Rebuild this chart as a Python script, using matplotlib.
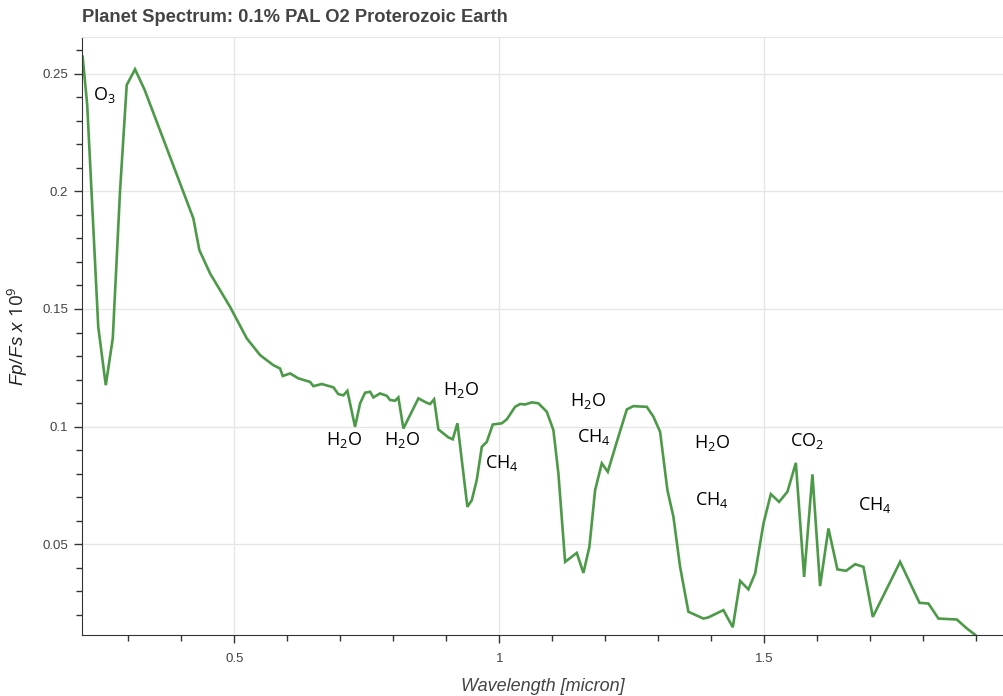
import matplotlib
matplotlib.use("Agg")
from matplotlib import pyplot as plt
from matplotlib.ticker import MultipleLocator, FuncFormatter

# Spectrum vertices
wavelength = [0.2138, 0.2224, 0.2432, 0.2574, 0.2706, 0.2844, 0.2969, 0.3126, 0.3308,
              0.3976, 0.4226, 0.434, 0.4542, 0.4919, 0.5234, 0.5485, 0.5736, 0.5862,
              0.5913, 0.6051, 0.6208, 0.6428, 0.6491, 0.6649, 0.6868, 0.6962, 0.7057,
              0.7132, 0.7277, 0.7372, 0.7466, 0.756, 0.7623, 0.7749, 0.7875, 0.7938,
              0.8032, 0.8094, 0.8189, 0.8315, 0.8472, 0.863, 0.8693, 0.8768, 0.8849,
              0.9038, 0.912, 0.9208, 0.9396, 0.9479, 0.9573, 0.9668, 0.9762, 0.9875,
              1.0045, 1.014, 1.0296, 1.0391, 1.0485, 1.0611, 1.0736, 1.0894, 1.1019,
              1.1113, 1.124, 1.146, 1.1585, 1.1698, 1.1806, 1.1932, 1.2045, 1.2215,
              1.2404, 1.2528, 1.2781, 1.2906, 1.3032, 1.317, 1.3283, 1.3409, 1.3566,
              1.3849, 1.3943, 1.4226, 1.4403, 1.4542, 1.4698, 1.4825, 1.4982, 1.5121,
              1.5277, 1.5434, 1.5593, 1.5749, 1.5906, 1.605, 1.6208, 1.6377, 1.6541,
              1.6711, 1.6868, 1.7045, 1.756, 1.7925, 1.8094, 1.8283, 1.863, 1.8819,
              1.8975]
flux = [0.2572, 0.2367, 0.1424, 0.1176, 0.1375, 0.2005, 0.2452, 0.2519, 0.2431,
        0.2034, 0.1885, 0.175, 0.1651, 0.1509, 0.1375, 0.1304, 0.1261, 0.1247,
        0.1215, 0.1226, 0.1205, 0.119, 0.1172, 0.1181, 0.1167, 0.1138, 0.1133,
        0.1152, 0.0999, 0.1099, 0.1144, 0.1148, 0.1124, 0.1141, 0.1131, 0.1113,
        0.111, 0.1124, 0.0992, 0.1049, 0.112, 0.1101, 0.1096, 0.1116, 0.0988,
        0.0954, 0.0946, 0.1014, 0.0659, 0.0687, 0.0773, 0.0914, 0.0935, 0.1009,
        0.1014, 0.1031, 0.1084, 0.1096, 0.1094, 0.1103, 0.1099, 0.1063, 0.0985,
        0.0801, 0.0425, 0.0463, 0.0378, 0.0489, 0.073, 0.0844, 0.0808, 0.0935,
        0.1073, 0.1087, 0.1084, 0.1042, 0.0978, 0.073, 0.0617, 0.0404, 0.0213,
        0.0184, 0.0189, 0.022, 0.0147, 0.0344, 0.0308, 0.0376, 0.0588, 0.0713,
        0.068, 0.0723, 0.0846, 0.0361, 0.0797, 0.0322, 0.0567, 0.0393, 0.0387,
        0.0415, 0.0404, 0.0191, 0.0425, 0.0251, 0.0248, 0.0184, 0.018, 0.0142,
        0.0115]

# Molecule labels
labels = ["O$_3$", "H$_2$O", "H$_2$O", "H$_2$O", "CH$_4$", "H$_2$O", "CH$_4$",
          "H$_2$O", "CH$_4$", "CO$_2$", "CH$_4$"]
label_x = [0.254, 0.707, 0.816, 0.928, 1.005, 1.167, 1.178, 1.401, 1.401, 1.580, 1.709]
label_y = [0.2409, 0.0942, 0.0942, 0.1155, 0.0845, 0.1108, 0.0955, 0.093, 0.0688, 0.0938, 0.0667]

plt.rcParams['mathtext.fontset'] = 'custom'
plt.rcParams['mathtext.rm'] = 'Open Sans'
plt.rcParams['mathtext.it'] = 'Liberation Sans:italic'

fig = plt.figure(figsize=(10.04, 6.96), dpi=100)
ax = fig.add_axes([0.0817, 0.0876, 0.9183, 0.8592])

ax.plot(wavelength, flux, color='#4c9a48', lw=1.9, solid_joinstyle='miter')

for t, x, y in zip(labels, label_x, label_y):
    ax.text(x, y, t, family='Open Sans', fontsize=13, color='black', ha='center', va='center')

ax.set_xlim(0.2126, 1.952)
ax.set_ylim(0.0114, 0.2656)

ax.xaxis.set_major_locator(MultipleLocator(0.5))
ax.xaxis.set_minor_locator(MultipleLocator(0.1))
ax.yaxis.set_major_locator(MultipleLocator(0.05))
ax.yaxis.set_minor_locator(MultipleLocator(0.01))
ax.xaxis.set_major_formatter(FuncFormatter(lambda v, p: ('%g' % v)))
ax.yaxis.set_major_formatter(FuncFormatter(lambda v, p: ('%g' % round(v, 3))))

ax.grid(which='major', color='#e6e6e6', lw=1)
ax.set_axisbelow(True)
ax.spines['right'].set_visible(False)
ax.spines['top'].set_color('#e6e6e6')
ax.spines['left'].set_color('#333333')
ax.spines['bottom'].set_color('#333333')
ax.tick_params(which='major', direction='out', length=6, width=1, color='#333333',
               labelsize=9.5, labelcolor='#444444', pad=7)
ax.tick_params(axis='y', which='major', pad=4)
ax.tick_params(which='minor', direction='out', length=4, width=1, color='#333333')
for lab in ax.get_xticklabels() + ax.get_yticklabels():
    lab.set_family('Liberation Sans')

ax.set_xlabel("Wavelength [micron]", family='Liberation Sans', style='italic',
              fontsize=13, color='#444444', labelpad=9)
ax.set_ylabel(r"$\mathit{Fp/Fs\ x\ 10^9}$", fontsize=13.5, color='#222222', labelpad=9)

fig.text(0.0817, 0.975, "Planet Spectrum: 0.1% PAL O2 Proterozoic Earth",
         family='Liberation Sans', weight='bold', fontsize=13.2, color='#444444',
         ha='left', va='center')

plt.savefig("out.png", dpi=100)
